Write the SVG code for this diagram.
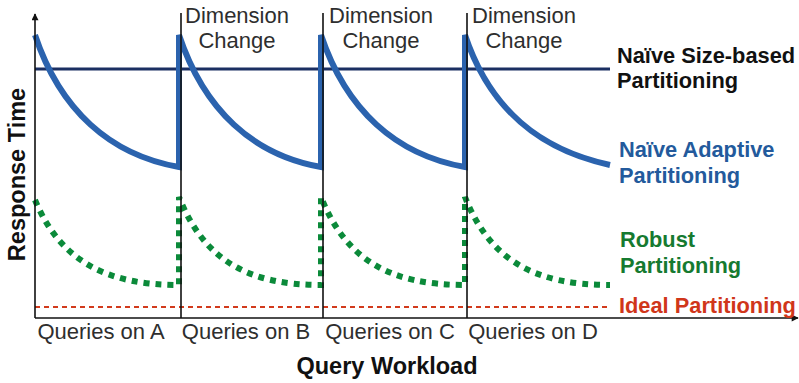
<svg xmlns="http://www.w3.org/2000/svg" width="799" height="383" viewBox="0 0 799 383">
  <defs>
    <marker id="arrow" viewBox="0 0 10 10" refX="9" refY="5" markerWidth="8" markerHeight="7" markerUnits="userSpaceOnUse" orient="auto">
      <path d="M0,0 L10,5 L0,10 z" fill="#111"/>
    </marker>
    <style>
      .axis { stroke: #111; stroke-width: 1.6; fill: none; }
      .divider { stroke: #111; stroke-width: 1.6; fill: none; }
      .sizebased { stroke: #1b2f62; stroke-width: 3; fill: none; }
      .adaptive { stroke: #2b63ae; stroke-width: 6; fill: none; stroke-linejoin: miter; }
      .robust { stroke: #0b8a3a; stroke-width: 6; fill: none; stroke-dasharray: 6 6; }
      .ideal { stroke: #d23a1c; stroke-width: 2; fill: none; stroke-dasharray: 5 4; }
      .light { font-family: "Liberation Sans", Arial, sans-serif; font-size: 22px; fill: #2e2e2e; }
      .bold { font-family: "Liberation Sans", Arial, sans-serif; font-size: 21.8px; font-weight: bold; }
      .title { font-family: "Liberation Sans", Arial, sans-serif; font-size: 23.5px; font-weight: bold; fill: #111; }
    </style>
  </defs>

  <!-- response-time curves -->
  <g id="connectors">
    <line id="size-based" class="sizebased" x1="35" y1="69" x2="610" y2="69"/>
    <path id="adaptive" class="adaptive" d="M35,35 C60,110 110,155 179,167 L179,35 C204,110 253,155 321,167 L321,35 C346,110 396,155 465,167 L465,35 C490,110 540,150 610,165"/>
    <path id="robust" class="robust" d="M35,200 C60,260 105,285 179,285 L179,197 C204,260 248,285 321,285 L321,197 C346,260 390,285 465,285 L465,197 C490,260 534,285 610,285"/>
    <line id="ideal" class="ideal" x1="35" y1="307" x2="610" y2="307"/>
  </g>

  <!-- axes and phase dividers -->
  <g id="axes">
    <line class="axis" x1="35" y1="318" x2="35" y2="14" marker-end="url(#arrow)"/>
    <line class="axis" x1="35" y1="318" x2="798" y2="318" marker-end="url(#arrow)"/>
    <line class="divider" x1="181" y1="13" x2="181" y2="318"/>
    <line class="divider" x1="323" y1="13" x2="323" y2="318"/>
    <line class="divider" x1="467" y1="13" x2="467" y2="318"/>
  </g>

  <g id="change-b">
    <text class="light" x="237" y="23" text-anchor="middle">Dimension</text>
    <text class="light" x="237" y="48" text-anchor="middle">Change</text>
  </g>
  <g id="change-c">
    <text class="light" x="381" y="23" text-anchor="middle">Dimension</text>
    <text class="light" x="381" y="48" text-anchor="middle">Change</text>
  </g>
  <g id="change-d">
    <text class="light" x="524" y="23" text-anchor="middle">Dimension</text>
    <text class="light" x="524" y="48" text-anchor="middle">Change</text>
  </g>

  <g id="phases">
    <text class="light" x="101" y="339" text-anchor="middle">Queries on A</text>
    <text class="light" x="246" y="339" text-anchor="middle">Queries on B</text>
    <text class="light" x="390" y="339" text-anchor="middle">Queries on C</text>
    <text class="light" x="533" y="339" text-anchor="middle">Queries on D</text>
  </g>

  <g id="axis-titles">
    <text class="title" x="387" y="374" text-anchor="middle">Query Workload</text>
    <text class="title" transform="translate(25,174.5) rotate(-90)" text-anchor="middle">Response Time</text>
  </g>

  <g id="legend">
    <text class="bold" x="617" y="63" fill="#111">Naïve Size-based</text>
    <text class="bold" x="617" y="88" fill="#111">Partitioning</text>
    <text class="bold" x="619" y="157" fill="#235a9c">Naïve Adaptive</text>
    <text class="bold" x="619" y="183" fill="#235a9c">Partitioning</text>
    <text class="bold" x="620" y="247" fill="#167a30">Robust</text>
    <text class="bold" x="620" y="273" fill="#167a30">Partitioning</text>
    <text class="bold" x="619" y="313" fill="#d0361a">Ideal Partitioning</text>
  </g>
</svg>
